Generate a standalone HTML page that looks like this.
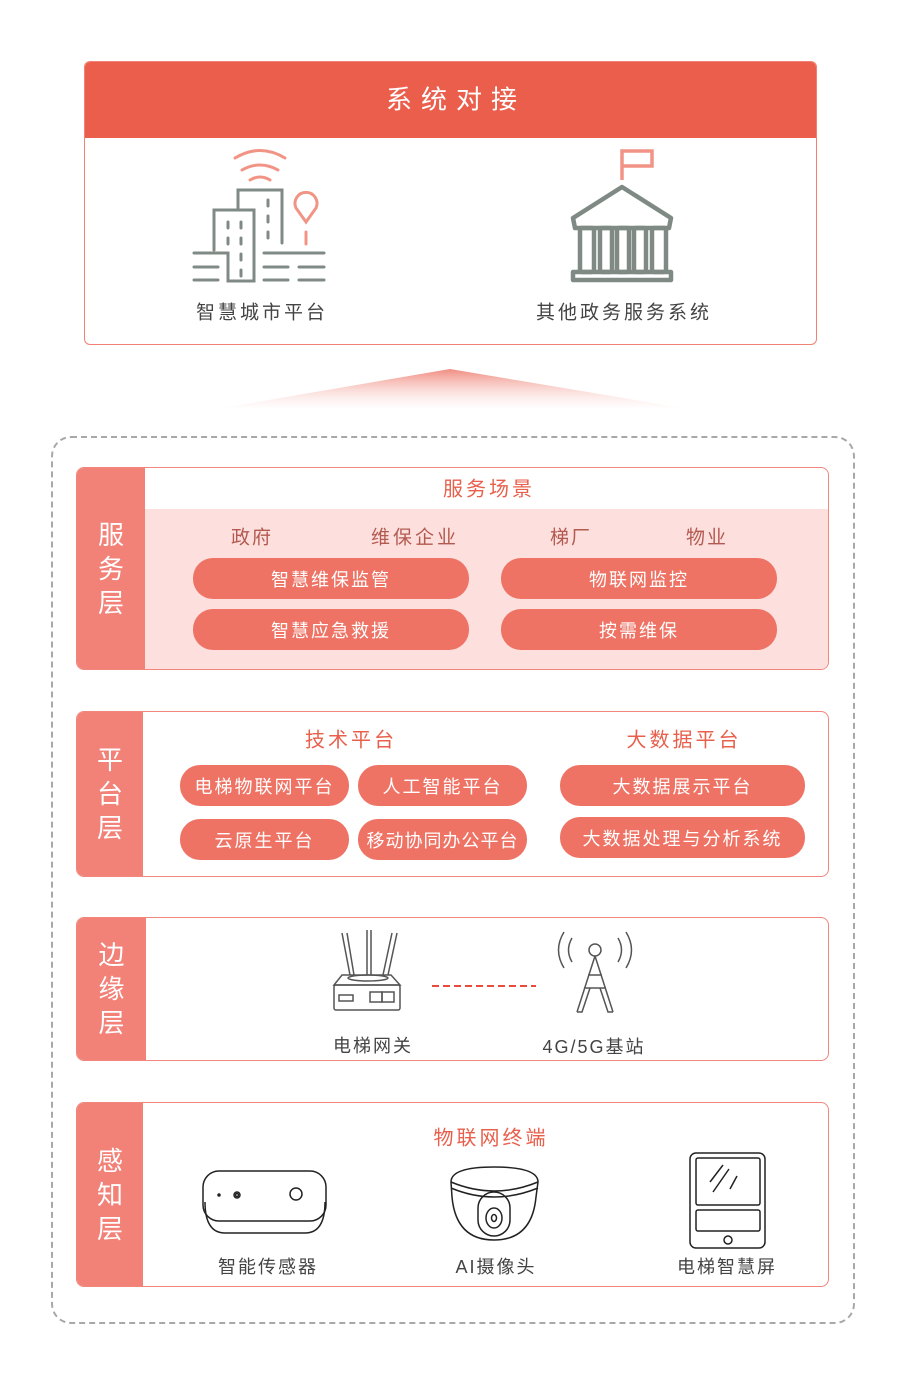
<!DOCTYPE html>
<html><head><meta charset="utf-8"><style>
*{margin:0;padding:0;box-sizing:border-box}
body{width:900px;height:1392px;background:#fff;position:relative;font-family:"Liberation Sans","Noto Sans CJK SC",sans-serif;overflow:hidden}
.a{position:absolute}
.t{position:absolute;transform:translate(-50%,-50%);white-space:nowrap}
.box{position:absolute;border:1.5px solid #f2867b;border-radius:8px;overflow:hidden;background:#fff}
.band{position:absolute;left:0;top:0;bottom:0;background:#f28178;color:#fff;font-size:26px;display:flex;flex-direction:column;align-items:center;justify-content:center;line-height:34px}
.pill{position:absolute;background:#ee7365;color:#fff;font-size:18px;border-radius:20px;display:flex;align-items:center;justify-content:center;letter-spacing:2px}
.lab{color:#444;font-size:18px;letter-spacing:2px}
.red{color:#e8604c;font-size:20px;letter-spacing:3px}
</style></head><body>

<div class="a" style="left:84px;top:61px;width:733px;height:284px;border:1.5px solid #f08174;border-radius:6px;overflow:hidden">
  <div class="a" style="left:0;top:0;right:0;height:76px;background:#eb5e4c"></div>
</div>
<div class="t" style="left:456px;top:98px;color:#fff;font-size:26px;letter-spacing:9px">系统对接</div>

<svg class="a" style="left:0;top:0" width="900" height="420">
 <defs><linearGradient id="g" x1="0" y1="0" x2="0" y2="1"><stop offset="0" stop-color="#f08c80"/><stop offset="1" stop-color="#fff" stop-opacity="0.3"/></linearGradient></defs>
 <polygon points="450,369 695,410 210,410" fill="url(#g)"/>
 <g fill="none" stroke="#f29485" stroke-width="3" stroke-linecap="round">
  <path d="M235,158 Q260,143 285,158"/><path d="M242,170 Q260,160 278,170"/><path d="M250,180 Q260,174 270,180"/>
  <path d="M306,222 L296,208 A11,11 0 1 1 316,208 Z"/><line x1="306" y1="232" x2="306" y2="244"/>
 </g>
 <g fill="none" stroke="#808a85" stroke-width="3" stroke-linecap="round">
  <path d="M238,210 V190 H282 V243"/>
  <path d="M214,250 V210 H254 V281 H228 V253 H194"/>
  <line x1="228" y1="222" x2="228" y2="228"/><line x1="241" y1="222" x2="241" y2="228"/>
  <line x1="228" y1="238" x2="228" y2="244"/><line x1="241" y1="238" x2="241" y2="244"/>
  <line x1="241" y1="254" x2="241" y2="260"/><line x1="241" y1="270" x2="241" y2="276"/>
  <line x1="268" y1="200" x2="268" y2="206"/><line x1="268" y1="216" x2="268" y2="222"/><line x1="268" y1="232" x2="268" y2="238"/>
  <line x1="264" y1="253" x2="324" y2="253"/>
  <line x1="194" y1="267" x2="218" y2="267"/><line x1="264" y1="267" x2="288" y2="267"/><line x1="299" y1="267" x2="324" y2="267"/>
  <line x1="194" y1="280" x2="218" y2="280"/><line x1="264" y1="280" x2="288" y2="280"/><line x1="299" y1="280" x2="324" y2="280"/>
 </g>
 <g fill="none" stroke="#f29485" stroke-width="3.5"><path d="M622,180 V151 H652 V166 H622"/></g>
 <g fill="none" stroke="#808a85" stroke-width="4.5" stroke-linejoin="round">
  <path d="M622,187 L573,218 L575,228 H669 L671,218 Z"/>
  <rect x="580" y="228" width="14" height="44" rx="2"/><rect x="600" y="228" width="12" height="44" rx="2"/><rect x="617" y="228" width="12" height="44" rx="2"/><rect x="634" y="228" width="12" height="44" rx="2"/><rect x="652" y="228" width="14" height="44" rx="2"/>
  <rect x="573" y="272" width="98" height="8"/>
 </g>
</svg>
<div class="t lab" style="left:262px;top:311px;font-size:19px;letter-spacing:3px">智慧城市平台</div>
<div class="t lab" style="left:624px;top:311px;font-size:19px;letter-spacing:3px">其他政务服务系统</div>

<div class="a" style="left:51px;top:436px;width:804px;height:888px;border:2px dashed #a8a8a8;border-radius:20px"></div>

<div class="box" style="left:76px;top:467px;width:753px;height:203px">
 <div class="band" style="width:68px">服<br>务<br>层</div>
 <div class="a" style="left:68px;top:41px;right:0;bottom:0;background:#fddfdd"></div>
</div>
<div class="t red" style="left:489px;top:487px">服务场景</div>
<div class="t" style="left:252px;top:536px;color:#b35a50;font-size:19px;letter-spacing:2px">政府</div>
<div class="t" style="left:415px;top:536px;color:#b35a50;font-size:19px;letter-spacing:3px">维保企业</div>
<div class="t" style="left:571px;top:536px;color:#b35a50;font-size:19px;letter-spacing:2px">梯厂</div>
<div class="t" style="left:707px;top:536px;color:#b35a50;font-size:19px;letter-spacing:2px">物业</div>
<div class="pill" style="left:193px;top:558px;width:276px;height:41px">智慧维保监管</div>
<div class="pill" style="left:193px;top:609px;width:276px;height:41px">智慧应急救援</div>
<div class="pill" style="left:501px;top:558px;width:276px;height:41px">物联网监控</div>
<div class="pill" style="left:501px;top:609px;width:276px;height:41px">按需维保</div>

<div class="box" style="left:76px;top:711px;width:753px;height:166px">
 <div class="band" style="width:66px">平<br>台<br>层</div>
</div>
<div class="t red" style="left:351px;top:738px">技术平台</div>
<div class="t red" style="left:684px;top:738px">大数据平台</div>
<div class="pill" style="left:180px;top:765px;width:169px;height:41px">电梯物联网平台</div>
<div class="pill" style="left:358px;top:765px;width:169px;height:41px">人工智能平台</div>
<div class="pill" style="left:180px;top:819px;width:169px;height:41px">云原生平台</div>
<div class="pill" style="left:358px;top:819px;width:169px;height:41px;letter-spacing:1px">移动协同办公平台</div>
<div class="pill" style="left:560px;top:765px;width:245px;height:41px">大数据展示平台</div>
<div class="pill" style="left:560px;top:817px;width:245px;height:41px">大数据处理与分析系统</div>

<div class="box" style="left:76px;top:917px;width:753px;height:144px">
 <div class="band" style="width:69px">边<br>缘<br>层</div>
</div>
<svg class="a" style="left:0;top:920px" width="900" height="100">
 <g fill="none" stroke="#555" stroke-width="1.5">
  <path d="M342,13 L350,55 M347,13 L354,55"/><path d="M367,10 L367,55 M371,10 L371,55"/><path d="M397,13 L388,55 M392,13 L383,55"/>
  <path d="M342,55 H391 L400,65 H334 Z"/><ellipse cx="368" cy="58" rx="20" ry="3"/>
  <rect x="334" y="65" width="66" height="25" rx="2"/>
  <rect x="339" y="75" width="14" height="6"/><rect x="370" y="72" width="12" height="10"/><rect x="382" y="72" width="12" height="10"/>
  <circle cx="595" cy="30" r="6"/>
  <path d="M595,36 L577,92 M595,36 L613,92 M588,55 H602 M584,68 H606 M577,92 H582 L590,68 M613,92 H608 L600,68"/>
  <path d="M572,18 Q565,30 572,42"/><path d="M564,12 Q553,30 564,48"/>
  <path d="M618,18 Q625,30 618,42"/><path d="M626,12 Q637,30 626,48"/>
 </g>
 <line x1="432" y1="66" x2="536" y2="66" stroke="#ea4b3c" stroke-width="2" stroke-dasharray="7,4"/>
</svg>
<div class="t lab" style="left:373px;top:1045px">电梯网关</div>
<div class="t lab" style="left:594px;top:1046px">4G/5G基站</div>

<div class="box" style="left:76px;top:1102px;width:753px;height:185px">
 <div class="band" style="width:66px">感<br>知<br>层</div>
</div>
<div class="t red" style="left:491px;top:1136px">物联网终端</div>
<svg class="a" style="left:0;top:1140px" width="900" height="120">
 <g fill="none" stroke="#222" stroke-width="1.5">
  <rect x="203" y="31" width="123" height="50" rx="16"/>
  <path d="M205,62 Q205,93 225,93 H305 Q325,93 325,62"/>
  <circle cx="219" cy="55" r="1" fill="#222"/><circle cx="237" cy="55" r="3"/><circle cx="237" cy="55" r="1.5"/>
  <circle cx="296" cy="54" r="6"/>
  <path d="M451,42 Q451,27 494,27 Q538,27 538,42 L536,57 Q532,100 494,100 Q456,100 452,57 Z"/>
  <path d="M451,42 Q494,60 538,42"/><path d="M451,48 Q494,66 538,48"/>
  <rect x="478" y="52" width="32" height="44" rx="16"/><ellipse cx="494" cy="78" rx="8" ry="10"/><ellipse cx="494" cy="78" rx="2.5" ry="3.5"/>
  <rect x="690" y="13" width="75" height="95" rx="6"/>
  <rect x="696" y="18" width="64" height="47" rx="2"/>
  <rect x="696" y="70" width="64" height="21" rx="2"/>
  <circle cx="728" cy="100" r="4"/>
  <path d="M710,42 L723,25 M713,52 L729,29 M730,49 L737,36"/>
 </g>
</svg>
<div class="t lab" style="left:268px;top:1266px">智能传感器</div>
<div class="t lab" style="left:496px;top:1266px">AI摄像头</div>
<div class="t lab" style="left:727px;top:1266px">电梯智慧屏</div>
</body></html>
